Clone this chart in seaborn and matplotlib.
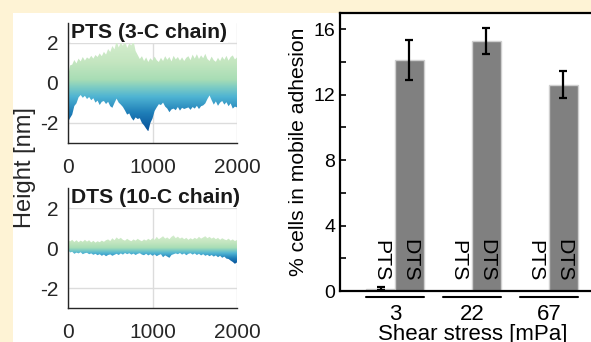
import numpy as np
import pandas as pd
import matplotlib
matplotlib.use("Agg")
import matplotlib.pyplot as plt
from matplotlib.colors import LinearSegmentedColormap
from matplotlib.patches import Rectangle
import seaborn as sns

# ---------------- data ----------------
scan_pos = np.arange(0, 2001, 25)  # nm along scan line

pts_upper = [0.30, 0.88, 0.92, 1.15, 0.98, 1.22, 1.08, 1.30, 1.12, 1.28,
             1.20, 1.36, 1.22, 1.40, 1.30, 1.48, 1.34, 1.56, 1.42, 1.70,
             1.55, 1.85, 1.68, 2.10, 1.78, 2.02, 1.86, 2.15, 1.75, 1.98,
             1.88, 2.12, 1.60, 1.40, 1.20, 1.34, 1.10, 1.28, 1.05, 1.24,
             1.12, 1.32, 1.14, 1.05, 1.26, 1.10, 1.34, 1.16, 1.30, 1.08,
             1.36, 1.18, 1.30, 1.12, 1.28, 1.10, 1.26, 1.34, 1.14, 1.42,
             1.22, 1.44, 1.20, 1.38, 1.24, 1.46, 1.20, 1.10, 1.32, 1.14,
             1.06, 1.26, 1.10, 1.32, 1.16, 1.36, 1.12, 1.30, 1.38, 1.18,
             1.28]
pts_lower = [-1.95, -1.75, -1.58, -1.15, -1.02, -0.72, -0.60, -0.74, -0.64, -0.80,
             -0.70, -0.86, -0.76, -0.98, -0.88, -1.10, -0.94, -0.90, -1.05, -0.94,
             -1.16, -1.24, -1.00, -0.78, -0.98, -1.08, -1.20, -1.38, -1.58, -1.52,
             -1.74, -1.88, -1.72, -1.80, -1.76, -2.00, -2.12, -2.28, -2.42, -2.00,
             -1.78, -1.40, -1.22, -1.06, -1.10, -0.98, -1.18, -1.28, -1.46, -1.32,
             -1.28, -1.36, -1.20, -1.38, -1.24, -1.30, -1.26, -1.22, -1.34, -1.20,
             -1.28, -1.14, -1.30, -1.16, -1.12, -1.02, -0.80, -0.62, -0.86, -1.08,
             -0.92, -1.14, -0.98, -0.90, -1.08, -0.96, -1.16, -1.02, -1.28, -1.18,
             -1.22]
dts_upper = [0.42, 0.33, 0.41, 0.30, 0.39, 0.29, 0.37, 0.31, 0.41, 0.32,
             0.39, 0.28, 0.36, 0.27, 0.34, 0.29, 0.37, 0.31, 0.39, 0.43,
             0.35, 0.49, 0.39, 0.53, 0.44, 0.51, 0.41, 0.37, 0.46, 0.39,
             0.34, 0.43, 0.37, 0.46, 0.39, 0.34, 0.43, 0.37, 0.46, 0.39,
             0.49, 0.41, 0.56, 0.44, 0.51, 0.59, 0.47, 0.53, 0.44, 0.56,
             0.63, 0.49, 0.57, 0.47, 0.53, 0.44, 0.51, 0.41, 0.49, 0.43,
             0.51, 0.45, 0.56, 0.47, 0.53, 0.59, 0.49, 0.56, 0.47, 0.53,
             0.44, 0.51, 0.41, 0.49, 0.43, 0.39, 0.47, 0.37, 0.43, 0.35,
             0.40]
dts_lower = [-0.10, -0.22, -0.19, -0.29, -0.23, -0.27, -0.21, -0.31, -0.26, -0.24,
             -0.31, -0.27, -0.34, -0.29, -0.36, -0.31, -0.39, -0.33, -0.41, -0.35,
             -0.32, -0.39, -0.34, -0.29, -0.35, -0.27, -0.33, -0.25, -0.31, -0.26,
             -0.33, -0.28, -0.35, -0.29, -0.26, -0.33, -0.36, -0.29, -0.37, -0.31,
             -0.39, -0.32, -0.41, -0.35, -0.31, -0.46, -0.37, -0.43, -0.49, -0.35,
             -0.31, -0.27, -0.31, -0.25, -0.33, -0.27, -0.36, -0.29, -0.26, -0.33,
             -0.27, -0.35, -0.29, -0.37, -0.31, -0.39, -0.34, -0.41, -0.35, -0.43,
             -0.37, -0.46, -0.39, -0.49, -0.43, -0.53, -0.55, -0.63, -0.70, -0.79,
             -0.72]

shear_labels = ["3", "22", "67"]
chains = ["PTS", "DTS"]
pts_mobile = [0.15, 0.0, 0.0]
pts_err = [0.1, 0.0, 0.0]
dts_mobile = [14.13, 15.3, 12.62]
dts_err = [1.2, 0.8, 0.82]

# ---------------- style ----------------
sns.set_theme(style="white")
plt.rcParams["font.family"] = ["Liberation Sans", "DejaVu Sans"]
plt.rcParams["axes.unicode_minus"] = False

W, H = 591, 342
fig = plt.figure(figsize=(W / 100, H / 100), dpi=100)
fig.patch.set_facecolor("#fef3d5")
fig.patches.append(Rectangle((13 / W, 0), 1, (H - 13) / H, transform=fig.transFigure,
                             facecolor="white", edgecolor="none", zorder=-5))

cmap = LinearSegmentedColormap.from_list(
    "prof", [(0.0, "#07519a"), (0.2, "#1f7fb8"), (0.37, "#4eb3d3"), (0.48, "#7fcdc3"),
             (0.56, "#a8ddb5"), (0.75, "#c4e6c0"), (1.0, "#d6eecf")])

def profile_axes(rect, lo, hi, title):
    ax = fig.add_axes(rect)
    ax.set_facecolor("white")
    poly = ax.fill_between(scan_pos, lo, hi, facecolor="none", edgecolor="none")
    grad = np.linspace(0, 1, 256).reshape(-1, 1)
    im = ax.imshow(grad, extent=[scan_pos[0], scan_pos[-1], min(lo), max(hi)], origin="lower",
                   aspect="auto", cmap=cmap, zorder=2, interpolation="bilinear")
    im.set_clip_path(poly.get_paths()[0], transform=ax.transData)
    ax.set_xlim(0, 2000)
    ax.set_ylim(-3, 3)
    ax.set_xticks([0, 1000, 2000])
    ax.set_yticks([-2, 0, 2])
    ax.grid(True, color="#dcdcdc", linewidth=1.0, zorder=0)
    ax.set_axisbelow(True)
    for s in ["top", "right"]:
        ax.spines[s].set_visible(False)
    for s in ["left", "bottom"]:
        ax.spines[s].set_color("#262626")
        ax.spines[s].set_linewidth(1.0)
    ax.tick_params(length=0, labelsize=15, colors="#262626", pad=7)
    ax.tick_params(axis="x", pad=10.5)
    ax.text(0.02, 1.0, title, transform=ax.transAxes, ha="left", va="top",
            fontsize=15.2, fontweight="bold", color="#1a1a1a", zorder=5,
            bbox=dict(facecolor="white", edgecolor="none", pad=0.5))
    return ax

ax1 = profile_axes([68 / W, 1 - 143 / H, 169 / W, 120 / H], pts_lower, pts_upper, "PTS (3-C chain)")
ax2 = profile_axes([68 / W, 1 - 308 / H, 169 / W, 120 / H], dts_lower, dts_upper, "DTS (10-C chain)")
fig.text(25 / W, 1 - 168 / H, "Height [nm]", rotation=90, ha="center", va="center",
         fontsize=17, color="#262626")

# ---------------- bar chart ----------------
df = pd.DataFrame({
    "shear": shear_labels * 2,
    "chain": ["PTS"] * 3 + ["DTS"] * 3,
    "pct": pts_mobile + dts_mobile,
})
ax3 = fig.add_axes([340 / W, 1 - 291 / H, (604 - 340) / W, 278 / H])
ax3.set_facecolor("white")
sns.barplot(data=df, x="shear", y="pct", hue="chain", order=shear_labels, hue_order=chains,
            palette=["#808080", "#808080"], width=0.75, errorbar=None, edgecolor="#cfcfcf",
            linewidth=1.0, legend=False, ax=ax3, zorder=2)

# locate bars from the drawn patches: group index from centre, hue from side
bar_info = {}
for p in ax3.patches:
    if not isinstance(p, Rectangle):
        continue
    cx = p.get_x() + p.get_width() / 2
    gi = int(round(cx))
    if gi < 0 or gi >= len(shear_labels):
        continue
    side = "PTS" if cx < gi else "DTS"
    bar_info[(gi, side)] = (cx, p.get_width(), p.get_height())

errs = {"PTS": pts_err, "DTS": dts_err}
for gi in range(len(shear_labels)):
    dcx, bw, _ = bar_info[(gi, "DTS")]
    pcx = bar_info.get((gi, "PTS"), (dcx - bw, bw, 0.0))[0]
    centers = {"PTS": pcx, "DTS": dcx}
    vals = {"PTS": pts_mobile[gi], "DTS": dts_mobile[gi]}
    for chain in chains:
        e = errs[chain][gi]
        if e > 0:
            ax3.errorbar([centers[chain]], [vals[chain]], yerr=[e], fmt="none", ecolor="black",
                         elinewidth=1.6, capsize=3, capthick=1.6, zorder=4)
        ax3.text(centers[chain], 0.6, chain, rotation=270, ha="center", va="bottom", fontsize=15.3,
                 color="black", zorder=5)
    ax3.plot([pcx - bw / 2, dcx + bw / 2], [-0.022, -0.022], color="black", linewidth=1.5,
             transform=ax3.get_xaxis_transform(), clip_on=False)

ax3.set_xlim(-0.714, 2.714)
ax3.set_ylim(0, 17)
ax3.set_yticks([0, 4, 8, 12, 16])
ax3.set_yticks([2, 6, 10, 14], minor=True)
ax3.set_xticks(range(len(shear_labels)))
ax3.set_xticklabels(shear_labels)
ax3.tick_params(axis="y", which="both", direction="in", length=4, width=1.2, colors="black",
                labelsize=14, pad=3.5, left=True)
ax3.tick_params(axis="x", length=0, labelsize=16, pad=9.5, colors="black")
for s in ["left", "bottom", "top"]:
    ax3.spines[s].set_visible(True)
    ax3.spines[s].set_color("black")
    ax3.spines[s].set_linewidth(1.6)
ax3.spines["right"].set_visible(False)
ax3.set_xlabel("Shear stress [mPa]", fontsize=16, color="black")
ax3.xaxis.set_label_coords((473 - 340) / (604 - 340), -0.119)
ax3.set_ylabel("% cells in mobile adhesion", fontsize=15.2, labelpad=4, color="black")

fig.savefig("out.png", dpi=100, facecolor=fig.get_facecolor())
